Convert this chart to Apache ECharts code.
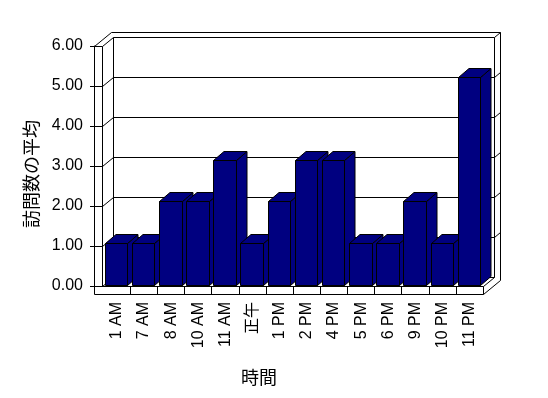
<!DOCTYPE html>
<html>
<head>
<meta charset="utf-8">
<script src="https://cdn.jsdelivr.net/npm/echarts@6/dist/echarts.min.js"></script>
<style>
html,body{margin:0;padding:0;background:#fff;}
#chart{width:548px;height:398px;}
</style>
</head>
<body>
<div id="chart"></div>
<script>
// ---- data ----
const categories = ['1 AM','7 AM','8 AM','10 AM','11 AM','正午','1 PM','2 PM','4 PM','5 PM','6 PM','9 PM','10 PM','11 PM'];
const visits = [1, 1, 2, 2, 3, 1, 2, 3, 3, 1, 1, 2, 1, 5];
const yTicks = [0, 1, 2, 3, 4, 5, 6];
const xTitle = '時間';
const yTitle = '訪問数の平均';

// ---- layout / style ----
const FONT = "'Liberation Sans', 'Noto Sans CJK JP', sans-serif";
const NAVY = '#000080';
const DX = 11, DY = -9;      // depth of plot (oblique)
const TX = 6, TY = -5;       // wall thickness
const WALL = 8;              // left wall front thickness
const FLOOR = 8;             // floor front thickness
const BAR_OFF = 1.9, BAR_W = 22.5, BAR_DX = 10.5, BAR_DY = -9;

function c(v){ return Math.floor(v) + 0.5; }
function ln(x1,y1,x2,y2){
  return {type:'line', shape:{x1:c(x1),y1:c(y1),x2:c(x2),y2:c(y2)},
          style:{stroke:'#000', lineWidth:1}, silent:true};
}

function renderFrame(params, api){
  const r = params.coordSys;
  const L = r.x, R = r.x + r.width, T = r.y, B = r.y + r.height;
  const v = api.value(1);
  const y = api.coord([0, v])[1];
  const ch = [];
  ch.push(ln(L, y, L + WALL, y));
  if (v > 0) {
    ch.push(ln(L + WALL, y, L + WALL + DX, y + DY));
    ch.push(ln(L + WALL + DX, y + DY, R + DX, y + DY));
    ch.push(ln(R + DX, y + DY, R + DX + TX, y + DY + TY));
  } else {
    ch.push(ln(L, T, L, B + FLOOR));
    ch.push(ln(L + WALL, T, L + WALL, B));
    ch.push(ln(L, B, R, B));
    ch.push(ln(L, B + FLOOR, R, B + FLOOR));
    ch.push(ln(R, B, R, B + FLOOR));
    ch.push(ln(L + WALL, B, L + WALL + DX, B + DY));
    ch.push(ln(L + WALL + DX, B + DY, R + DX, B + DY));
    ch.push(ln(R, B, R + DX, B + DY));
    ch.push(ln(R, B + FLOOR, R + DX + TX, B + FLOOR + DY + TY));
    ch.push(ln(L + WALL + DX, T + DY, L + WALL + DX, B + DY));
    ch.push(ln(R + DX, T + DY, R + DX, B + DY));
    ch.push(ln(R + DX + TX, T + DY + TY, R + DX + TX, B + FLOOR + DY + TY));
    ch.push(ln(L, T, L + DX + TX, T + DY + TY));
    ch.push(ln(L + DX + TX, T + DY + TY, R + DX + TX, T + DY + TY));
  }
  return {type:'group', children: ch};
}

function renderBar(params, api){
  const i = api.value(0), v = api.value(1);
  const base = api.coord([i, 0]);
  const top = api.coord([i, v]);
  const band = api.size([1, 0])[0];
  const x0 = Math.floor(base[0] - band / 2 + BAR_OFF) + 0.5;
  const x1 = Math.floor(base[0] - band / 2 + BAR_OFF + BAR_W) + 0.5;
  const yT = Math.floor(top[1]) + 0.5;
  const yB = Math.floor(base[1]) + 0.5;
  const st = {fill: NAVY, stroke: '#000', lineWidth: 1};
  const ch = [
    {type:'polygon', shape:{points:[[x1,yT],[x1+BAR_DX,yT+BAR_DY],[x1+BAR_DX,yB+BAR_DY],[x1,yB]]}, style:st},
    {type:'polygon', shape:{points:[[x0,yT],[x0+BAR_DX,yT+BAR_DY],[x1+BAR_DX,yT+BAR_DY],[x1,yT]]}, style:st},
    {type:'rect', shape:{x:x0, y:yT, width:x1-x0, height:yB-yT}, style:st}
  ];
  if (i < categories.length - 1) {
    const xt = base[0] + band / 2;
    ch.push(ln(xt, base[1] + 1, xt, base[1] + 1 + FLOOR));
  }
  return {type:'group', children: ch};
}

const chart = echarts.init(document.getElementById('chart'), null, {renderer:'canvas'});
chart.setOption({
  backgroundColor: '#fff',
  animation: false,
  textStyle: {fontFamily: FONT},
  grid: [
    {left: 103.3, top: 35.4, width: 380.1, height: 249.6},
    {left: 94, top: 46, width: 389, height: 240}
  ],
  xAxis: [
    {type:'category', gridIndex:0, data: categories, boundaryGap:true,
     axisLine:{show:false}, axisTick:{show:false}, splitLine:{show:false},
     axisLabel:{rotate:90, margin:17, interval:0, color:'#000', fontSize:16, fontFamily:FONT}},
    {type:'value', gridIndex:1, min:0, max:1, show:false}
  ],
  yAxis: [
    {type:'value', gridIndex:0, min:0, max:6, show:false},
    {type:'value', gridIndex:1, min:0, max:6, interval:1,
     axisLine:{show:true, lineStyle:{color:'#000', width:1}},
     axisTick:{show:true, length:4, lineStyle:{color:'#000'}},
     splitLine:{show:false},
     axisLabel:{formatter: v => v.toFixed(2), margin:11, color:'#000', fontSize:16, fontFamily:FONT}}
  ],
  series: [
    {type:'custom', xAxisIndex:1, yAxisIndex:1, z:1, silent:true, clip:false,
     data: yTicks.map(v => [0, v]), renderItem: renderFrame},
    {type:'custom', xAxisIndex:0, yAxisIndex:0, z:2, silent:true, clip:false,
     data: visits.map((v, i) => [i, v]), encode:{x:0, y:1}, renderItem: renderBar}
  ],
  graphic: [
    {type:'text', x:259, y:377, style:{text:xTitle, font:"18px 'Noto Sans CJK JP', sans-serif", fill:'#000', textAlign:'center', textVerticalAlign:'middle'}},
    {type:'text', x:31, y:174, rotation:Math.PI/2, style:{text:yTitle, font:"18px 'Noto Sans CJK JP', sans-serif", fill:'#000', textAlign:'center', textVerticalAlign:'middle'}}
  ]
});
</script>
</body>
</html>
